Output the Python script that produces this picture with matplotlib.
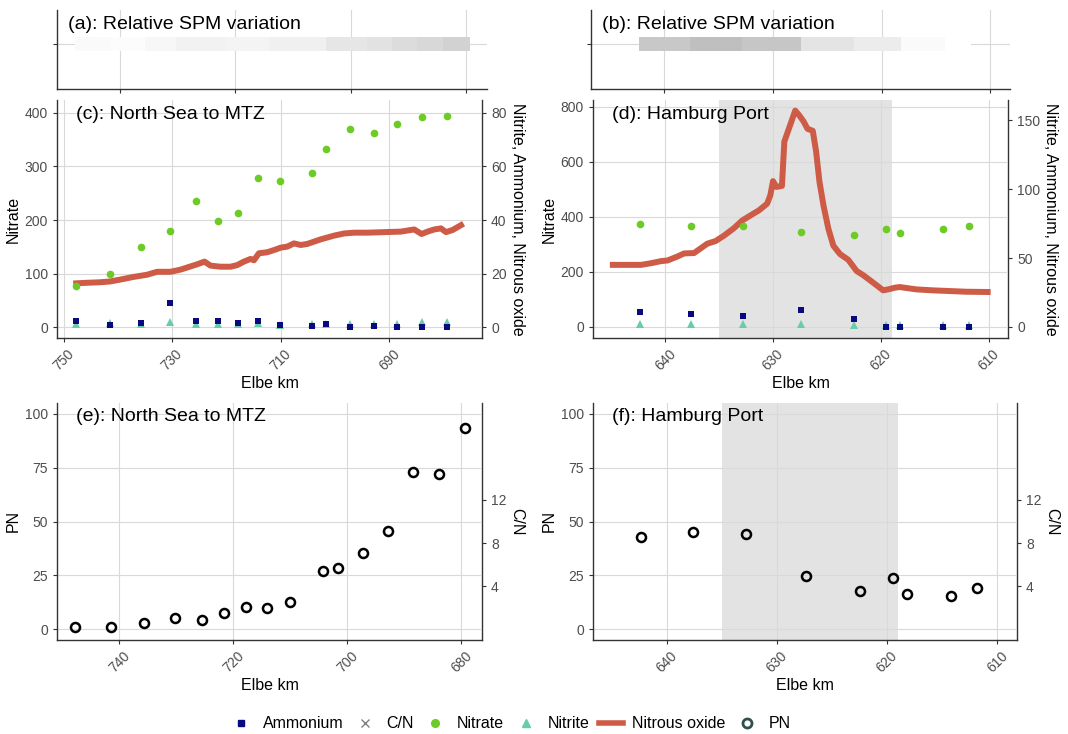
import matplotlib
matplotlib.use("Agg")
import matplotlib.pyplot as plt
from matplotlib.lines import Line2D
import numpy as np

plt.rcParams['font.family'] = ['Liberation Sans', 'DejaVu Sans']

# stations North Sea to MTZ (Elbe km)
km_ns = [747.7, 741.5, 735.7, 730.3, 725.5, 721.6, 717.8, 714.1, 710.1, 704.3, 701.7, 697.2, 692.8, 688.5, 684.0, 679.4]
nitrate_ns = [77, 99, 149, 179, 235, 199, 214, 278, 273, 287, 333, 369, 362, 380, 393, 394]
ammonium_ns = [2.5, 1.0, 1.7, 8.9, 2.4, 2.4, 1.6, 2.4, 1.0, 0.5, 1.2, 0.0, 0.4, 0.0, 0.0, 0.0]
nitrite_ns = [1.2, 1.5, 1.2, 1.9, 1.3, 1.3, 1.2, 1.5, 1.0, 1.4, 1.2, 1.2, 1.1, 1.3, 1.9, 1.9]
pn_ns = [0.9, 0.9, 3.1, 5.0, 4.2, 7.6, 10.4, 9.9, 12.5, 27.1, 28.3, 35.4, 45.4, 73.2, 72.0, 93.5]
# relative SPM between neighbouring stations
spm_ns = [0.08, 0.04, 0.12, 0.2, 0.2, 0.17, 0.17, 0.24, 0.24, 0.4, 0.4, 0.45, 0.55, 0.61, 0.7]

# nitrous oxide, continuous record
km_n2o_ns = [747.66, 745.69, 743.23, 741.38, 739.54, 737.08, 734.62, 732.77, 731.54, 730.31,
             728.46, 726.92, 725.38, 724.03, 722.92, 721.08, 719.23, 718.0, 716.77, 715.54,
             714.92, 714.0, 712.46, 711.23, 710.0, 708.77, 707.54, 706.31, 705.08, 702.62,
             700.15, 698.31, 696.46, 694.0, 690.92, 687.85, 685.38, 684.03, 682.92, 681.69,
             680.46, 679.54, 678.31, 676.77]
n2o_ns = [16.4, 16.6, 16.8, 17.1, 17.8, 18.8, 19.6, 20.7, 20.7, 20.7,
          21.5, 22.5, 23.5, 24.5, 23.0, 22.6, 22.6, 23.2, 24.5, 25.5,
          25.0, 27.6, 28.0, 28.8, 29.7, 30.1, 31.3, 30.7, 31.1, 32.8,
          34.2, 35.0, 35.3, 35.3, 35.5, 35.7, 36.5, 34.8, 35.7, 36.5,
          36.9, 35.5, 36.3, 38.1]

# stations Hamburg Port
km_hh = [642.3, 637.6, 632.8, 627.4, 622.5, 619.5, 618.2, 614.2, 611.8]
nitrate_hh = [374, 368, 365, 346, 335, 356, 341, 356, 365]
ammonium_hh = [11.0, 9.7, 8.3, 12.2, 5.6, 0.0, 0.2, 0.0, 0.0]
nitrite_hh = [2.4, 2.4, 2.0, 2.2, 1.7, 1.5, 1.5, 1.5, 1.5]
pn_hh = [43.0, 45.0, 44.4, 24.6, 17.8, 23.7, 16.4, 15.6, 19.0]
spm_hh = [0.87, 1.0, 0.9, 0.43, 0.3, 0.3, 0.08, 0.0]

km_n2o_hh = [644.86, 643.48, 642.25, 641.32, 640.40, 639.78, 638.86, 638.25, 637.32, 636.71,
             636.09, 635.32, 634.55, 633.63, 632.86, 632.09, 631.32, 630.55, 630.25, 630.0,
             629.69, 629.17, 628.95, 628.40, 627.94, 627.57, 627.17, 626.80, 626.31, 626.0,
             625.69, 625.32, 624.86, 624.40, 623.78, 623.02, 622.25, 621.63, 620.71, 619.78,
             619.32, 618.71, 618.25, 616.71, 615.17, 613.63, 612.09, 610.09]
n2o_hh = [45.1, 45.1, 45.1, 46.3, 47.8, 48.3, 51.2, 53.4, 53.7, 57.1,
          60.5, 62.4, 66.3, 71.7, 77.3, 81.0, 84.6, 89.5, 95.6, 105.9,
          101.7, 102.4, 134.6, 146.8, 157.1, 153.7, 149.3, 143.9, 142.4, 127.3,
          105.4, 88.3, 71.2, 59.0, 52.9, 48.8, 40.7, 37.6, 32.2, 26.6,
          27.3, 28.5, 29.0, 27.3, 26.6, 26.1, 25.6, 25.4]

port_zone = (635, 619)

c_amm = '#0a0a80'
c_nitrate = '#6ccb26'
c_nitrite = '#66cdaa'
c_n2o = '#cd5b45'
c_grid = '#d9d9d9'
c_axis = '#333333'

W, H = 1068, 734
fig = plt.figure(figsize=(W / 100, H / 100), dpi=100)


def px_axes(x0, y0, x1, y1):
    return fig.add_axes([x0 / W, 1 - y1 / H, (x1 - x0) / W, (y1 - y0) / H])


def style(ax):
    ax.set_axisbelow(True)
    ax.grid(True, color=c_grid, lw=0.8)
    ax.spines['top'].set_visible(False)
    ax.spines['right'].set_visible(False)
    for s in ['left', 'bottom']:
        ax.spines[s].set_color(c_axis)
        ax.spines[s].set_linewidth(1.0)
    ax.tick_params(colors=c_axis, labelcolor='#4d4d4d', labelsize=10, length=3)


def to_sec(v):
    return v / 5


def from_sec(v):
    return v * 5


def add_sec(ax, ticks, label):
    sec = ax.secondary_yaxis('right', functions=(to_sec, from_sec))
    sec.spines['right'].set_color(c_axis)
    sec.spines['right'].set_linewidth(1.0)
    sec.tick_params(colors=c_axis, labelcolor='#4d4d4d', labelsize=10, length=3)
    sec.set_yticks(ticks)
    sec.set_ylabel(label, rotation=270, fontsize=11.5, labelpad=13)
    return sec


def xticks_rot(ax, ticks):
    ax.set_xticks(ticks)
    for t in ax.get_xticklabels():
        t.set_rotation(45)
        t.set_ha('center')


def spm_panel(ax, km, spm, xlim, ticks, title):
    style(ax)
    for i in range(len(spm)):
        g = 1 - 0.25 * spm[i]
        ax.fill_between([km[i + 1], km[i]], -0.5, 0.5, color=(g, g, g), lw=0, zorder=2)
    ax.set_xlim(xlim)
    ax.set_ylim(-3.2, 2.45)
    ax.set_xticks(ticks)
    ax.set_xticklabels([])
    ax.set_yticks([0])
    ax.set_yticklabels([])
    ax.text(0.026, 0.82, title, transform=ax.transAxes, fontsize=14, va='center')


def nut_panel(ax, km, nitrate, ammonium, nitrite, km_n2o, n2o, xlim, ylim, ticks, yticks, sticks, title):
    style(ax)
    ax.plot(km_n2o, np.array(n2o) * 5, color=c_n2o, lw=4.3, zorder=2)
    ax.plot(km, nitrate, 'o', color=c_nitrate, ms=5.5, mew=0, zorder=3)
    ax.plot(km, np.array(nitrite) * 5, '^', color=c_nitrite, ms=6, mew=0, zorder=3)
    ax.plot(km, np.array(ammonium) * 5, 's', color=c_amm, ms=5, mew=0, zorder=4)
    ax.set_xlim(xlim)
    ax.set_ylim(ylim)
    xticks_rot(ax, ticks)
    ax.set_yticks(yticks)
    ax.set_xlabel('Elbe km', fontsize=11.5, labelpad=2)
    ax.set_ylabel('Nitrate', fontsize=11.5, labelpad=3)
    add_sec(ax, sticks, 'Nitrite, Ammonium, Nitrous oxide')
    ax.text(0.045, 0.941, title, transform=ax.transAxes, fontsize=14, va='center')


def pn_panel(ax, km, pn, xlim, ticks, title):
    style(ax)
    ax.plot(km, pn, 'o', mfc='none', mec='black', mew=1.8, ms=6.5, zorder=3)
    ax.set_xlim(xlim)
    ax.set_ylim(-5, 105)
    xticks_rot(ax, ticks)
    ax.set_yticks([0, 25, 50, 75, 100])
    ax.set_xlabel('Elbe km', fontsize=11.5, labelpad=2)
    ax.set_ylabel('PN', fontsize=11.5, labelpad=3)
    add_sec(ax, [4, 8, 12], 'C/N')
    ax.text(0.045, 0.945, title, transform=ax.transAxes, fontsize=14, va='center')


xlim_ns = (750.9, 676.4)
xlim_hh = (646.7, 608.2)

ax_a = px_axes(57, 10, 487, 89)
spm_panel(ax_a, km_ns, spm_ns, xlim_ns, [740, 720, 700, 680], '(a): Relative SPM variation')

ax_b = px_axes(591, 10, 1010, 89)
spm_panel(ax_b, km_hh, spm_hh, xlim_hh, [640, 630, 620, 610], '(b): Relative SPM variation')

ax_c = px_axes(57, 100, 482, 338)
nut_panel(ax_c, km_ns, nitrate_ns, ammonium_ns, nitrite_ns, km_n2o_ns, n2o_ns,
          (751.2, 672.9), (-20, 424), [750, 730, 710, 690], [0, 100, 200, 300, 400],
          [0, 20, 40, 60, 80], '(c): North Sea to MTZ')

ax_d = px_axes(593, 100, 1008, 338)
ax_d.axvspan(port_zone[0], port_zone[1], color='#e3e3e3', lw=0, zorder=0.3)
nut_panel(ax_d, km_hh, nitrate_hh, ammonium_hh, nitrite_hh, km_n2o_hh, n2o_hh,
          xlim_hh, (-40, 824), [640, 630, 620, 610], [0, 200, 400, 600, 800],
          [0, 50, 100, 150], '(d): Hamburg Port')

ax_e = px_axes(57, 403, 482, 640)
pn_panel(ax_e, km_ns, pn_ns, xlim_ns, [740, 720, 700, 680], '(e): North Sea to MTZ')

ax_f = px_axes(593, 403, 1017, 640)
ax_f.axvspan(port_zone[0], port_zone[1], color='#e3e3e3', lw=0, zorder=0.3)
pn_panel(ax_f, km_hh, pn_hh, xlim_hh, [640, 630, 620, 610], '(f): Hamburg Port')

handles = [
    Line2D([], [], marker='s', color=c_amm, ls='', ms=5),
    Line2D([], [], marker='x', color='#808080', ls='', ms=6, mew=1),
    Line2D([], [], marker='o', color=c_nitrate, ls='', ms=5.5),
    Line2D([], [], marker='^', color=c_nitrite, ls='', ms=6),
    Line2D([], [], color=c_n2o, lw=4),
    Line2D([], [], marker='o', mfc='none', mec='#2f4f4f', mew=2, ls='', ms=6.5),
]
labels = ['Ammonium', 'C/N', 'Nitrate', 'Nitrite', 'Nitrous oxide', 'PN']
fig.legend(handles, labels, loc='center', bbox_to_anchor=(510 / W, 1 - 724 / H), ncol=6,
           frameon=False, fontsize=11.5, handlelength=1.5, handletextpad=0.6,
           columnspacing=0.6)

fig.savefig('out.png', dpi=100)
